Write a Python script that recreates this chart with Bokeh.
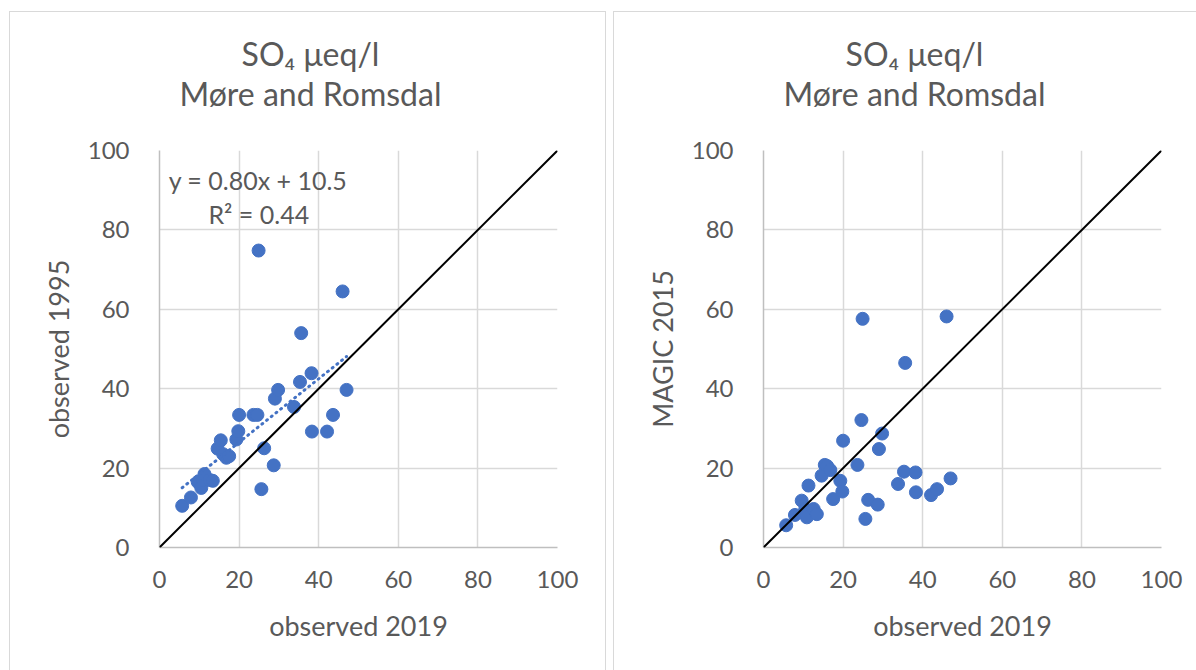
from bokeh.plotting import figure
from bokeh.models import Label, Range1d, FixedTicker, Spacer, Slope
from bokeh.layouts import row, column
from bokeh.embed import file_html
from bokeh.resources import INLINE

# ---- data ----
observed_2019 = [5.7, 7.9, 9.6, 10.5, 10.9, 11.3, 12.6, 13.4, 14.6, 15.4, 16.0,
                 16.8, 17.5, 19.3, 19.8, 20.0, 23.6, 24.6, 24.9, 25.6, 26.3,
                 28.7, 29.0, 29.8, 33.8, 35.3, 35.6, 38.2, 38.3, 42.1, 43.6,
                 46.0, 47.0]
observed_1995 = [10.5, 12.6, 16.5, 15.0, 17.0, 18.5, 17.0, 16.8, 24.9, 27.0, 23.5,
                 22.6, 23.0, 27.2, 29.3, 33.4, 33.4, 33.4, 74.8, 14.7, 25.0,
                 20.7, 37.5, 39.7, 35.4, 41.7, 54.0, 43.9, 29.2, 29.2, 33.4,
                 64.5, 39.7]
magic_2015 = [5.6, 8.2, 11.8, 9.7, 7.6, 15.6, 9.7, 8.4, 18.1, 20.8, 20.5,
              19.5, 12.2, 16.8, 14.1, 26.9, 20.8, 32.1, 57.6, 7.2, 12.0,
              10.8, 24.8, 28.7, 16.0, 19.1, 46.5, 18.9, 13.9, 13.2, 14.7,
              58.2, 17.4]
ticks = [0, 20, 40, 60, 80, 100]
trend_slope = 0.80
trend_intercept = 10.5
equation_text = "y = 0.80x + 10.5"
r2_text = "R² = 0.44"
title_line1 = "SO₄ μeq/l"
title_line2 = "Møre and Romsdal"
x_title = "observed 2019"
y_titles = ["observed 1995", "MAGIC 2015"]

FONT = "Lato"
TXT = "#595959"
GRID = "#d9d9d9"
BLUE = "#4472C4"
BORDER = "1px solid #d9d9d9"
TITLE_H = 125
TOP_PAD = 14


def make_title(width, border_right, css):
    t = figure(width=width, height=TITLE_H, x_range=Range1d(0, 398), y_range=Range1d(0, TITLE_H),
               output_backend="svg", toolbar_location=None, x_axis_type=None, y_axis_type=None,
               min_border_left=149, min_border_right=border_right,
               min_border_top=0, min_border_bottom=0)
    t.styles = css
    t.outline_line_color = None
    t.xgrid.visible = False
    t.ygrid.visible = False
    t.add_layout(Label(x=151, y=84, text=title_line1, text_font=FONT, text_font_size="32px",
                       text_color=TXT, text_align="center", text_baseline="middle"))
    t.add_layout(Label(x=151, y=44, text=title_line2, text_font=FONT, text_font_size="32px",
                       text_color=TXT, text_align="center", text_baseline="middle"))
    return t


def make_panel(width, border_right, ytitle, yvals, css, with_trend):
    p = figure(width=width, height=659 - TITLE_H, x_range=Range1d(0, 100), y_range=Range1d(0, 100),
               output_backend="svg", toolbar_location=None,
               min_border_left=149, min_border_right=border_right,
               min_border_top=TOP_PAD, min_border_bottom=123)
    p.styles = css
    p.outline_line_color = None
    for ax in (p.xaxis[0], p.yaxis[0]):
        ax.ticker = FixedTicker(ticks=ticks)
        ax.major_tick_line_color = None
        ax.minor_tick_line_color = None
        ax.major_tick_out = 0
        ax.major_tick_in = 0
        ax.axis_line_color = "#bfbfbf"
        ax.axis_line_width = 1.5
        ax.major_label_text_font = FONT
        ax.major_label_text_font_size = "24px"
        ax.major_label_text_color = TXT
        ax.axis_label_text_font = FONT
        ax.axis_label_text_font_size = "27px"
        ax.axis_label_text_font_style = "normal"
        ax.axis_label_text_color = TXT
    p.xaxis.major_label_standoff = 23
    p.xaxis.axis_label_standoff = 18
    p.yaxis.major_label_standoff = 30
    p.yaxis.axis_label_standoff = 10
    p.xaxis.axis_label = x_title
    p.yaxis.axis_label = ytitle
    p.xgrid.ticker = FixedTicker(ticks=ticks)
    p.ygrid.ticker = FixedTicker(ticks=ticks)
    p.grid.grid_line_color = GRID
    p.grid.grid_line_width = 1.5

    p.scatter(observed_2019, yvals, size=13, color=BLUE, line_color=BLUE)
    p.add_layout(Slope(gradient=1, y_intercept=0, line_color="black", line_width=2))

    if with_trend:
        xs = [min(observed_2019), max(observed_2019)]
        ys = [trend_slope * v + trend_intercept for v in xs]
        p.line(xs, ys, line_color=BLUE, line_width=3, line_dash="1 5", line_cap="round")
        p.add_layout(Label(x=2.3, y=92.6, text=equation_text, text_font=FONT,
                           text_font_size="25px", text_color=TXT, text_baseline="middle"))
        p.add_layout(Label(x=12.3, y=84.1, text=r2_text, text_font=FONT,
                           text_font_size="25px", text_color=TXT, text_baseline="middle"))
    return p


t1 = make_title(597, 50, {"border-top": BORDER, "border-left": BORDER, "border-right": BORDER})
p1 = make_panel(597, 50, y_titles[0], observed_1995,
                {"border-left": BORDER, "border-right": BORDER}, True)
t2 = make_title(583, 36, {"border-top": BORDER, "border-left": BORDER})
p2 = make_panel(583, 36, y_titles[1], magic_2015, {"border-left": BORDER}, False)

layout = column(Spacer(height=11),
                row(Spacer(width=9), column(t1, p1), Spacer(width=7), column(t2, p2)))

open("out.html", "w").write(file_html(layout, INLINE))
